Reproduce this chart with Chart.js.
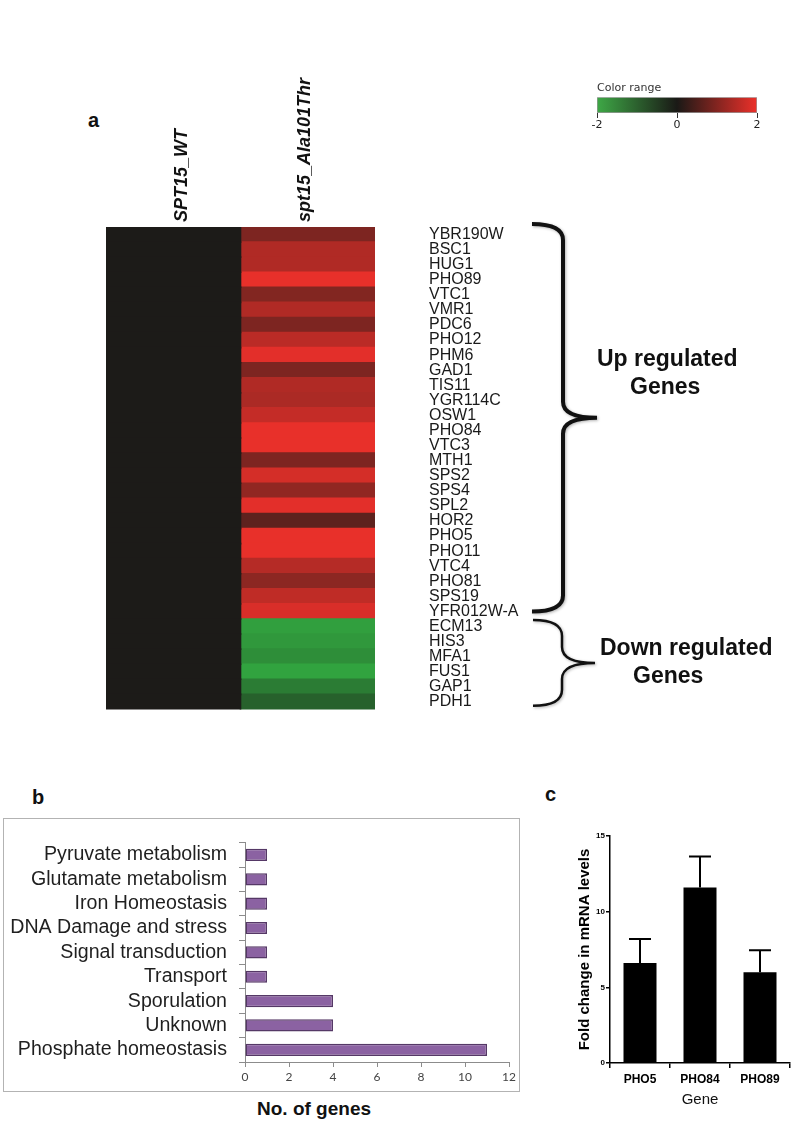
<!DOCTYPE html>
<html lang="en">
<head>
<meta charset="UTF-8">
<title>spt15 expression figure</title>
<script src="https://cdn.jsdelivr.net/npm/chart.js"></script>
<style>
  body { margin: 0; background: #fff; }
  #page { position: relative; width: 797px; height: 1126px; overflow: hidden;
          font-family: "Liberation Sans", Arial, sans-serif; color: #111; }
  .abs { position: absolute; }
  .panel-label { position: absolute; font-weight: bold; font-size: 20px; line-height: 24px; }
  #boxB { position: absolute; left: 3px; top: 818px; width: 517px; height: 274px;
          border: 1px solid #b3b3b3; box-sizing: border-box; }
  #boxB canvas { position: absolute; left: 0; top: 0; }
</style>
</head>
<body>
<div id="page">
  <div class="panel-label" style="left:88px; top:108px;">a</div>
  <canvas id="heatmap" class="abs" style="left:106px; top:0;" width="691" height="773"></canvas>
  <canvas id="scaleBar" class="abs" style="left:590px; top:78px;" width="180" height="56"></canvas>

  <div class="panel-label" style="left:32px; top:785px;">b</div>
  <div id="boxB"><canvas id="categoryChart" width="515" height="272"></canvas></div>
  <div class="abs" style="left:257px; top:1098px; font-weight:bold; font-size:19px;">No. of genes</div>

  <div class="panel-label" style="left:545px; top:782px;">c</div>
  <canvas id="qpcrChart" class="abs" style="left:560px; top:820px;" width="237" height="300"></canvas>
</div>

<script>
// ---- panel a data ----
const columns = ['SPT15_WT', 'spt15_Ala101Thr'];
const genes = ['YBR190W', 'BSC1', 'HUG1', 'PHO89', 'VTC1', 'VMR1', 'PDC6', 'PHO12', 'PHM6',
  'GAD1', 'TIS11', 'YGR114C', 'OSW1', 'PHO84', 'VTC3', 'MTH1', 'SPS2', 'SPS4', 'SPL2', 'HOR2',
  'PHO5', 'PHO11', 'VTC4', 'PHO81', 'SPS19', 'YFR012W-A',
  'ECM13', 'HIS3', 'MFA1', 'FUS1', 'GAP1', 'PDH1'];
const upCount = 26;
const wtLevels = [0, 0, 0, 0, 0, 0, 0, 0, 0, 0, 0, 0, 0, 0, 0, 0,
  0, 0, 0, 0, 0, 0, 0, 0, 0, 0, 0, 0, 0, 0, 0, 0];
const mutantLevels = [0.95, 1.45, 1.45, 2.0, 1.0, 1.45, 0.95, 1.55, 1.95,
  0.95, 1.45, 1.4, 1.65, 2.0, 2.0, 0.95, 1.8, 1.15, 1.95, 0.65,
  2.0, 2.0, 1.5, 1.1, 1.6, 1.85,
  -1.9, -1.8, -1.65, -1.95, -1.4, -1.0];
const scaleTicks = [-2, 0, 2];

// ---- panel b data ----
const functions = ['Pyruvate metabolism', 'Glutamate metabolism', 'Iron Homeostasis',
  'DNA Damage and stress', 'Signal transduction', 'Transport', 'Sporulation', 'Unknown',
  'Phosphate homeostasis'];
const geneCounts = [1, 1, 1, 1, 1, 1, 4, 4, 11];

// ---- panel c data ----
const qpcrGenes = ['PHO5', 'PHO84', 'PHO89'];
const foldChange = [6.6, 11.6, 6.0];
const foldChangeSd = [1.6, 2.05, 1.45];

Chart.defaults.font.family = '"Liberation Sans", Arial, sans-serif';
Chart.defaults.color = '#111';

const GREEN = [50, 166, 64], BLACK = [28, 27, 24], RED = [232, 48, 42];
function levelColor(v) {
  const t = Math.min(Math.abs(v) / 2, 1);
  const end = v < 0 ? GREEN : RED;
  const c = BLACK.map((b, i) => Math.round(b + (end[i] - b) * t));
  return `rgb(${c[0]}, ${c[1]}, ${c[2]})`;
}

function drawBrace(ctx, x0, xv, xt, top, bottom, width) {
  const mid = (top + bottom) / 2, r = 16;
  ctx.save();
  ctx.beginPath();
  ctx.moveTo(x0, top);
  ctx.quadraticCurveTo(xv, top, xv, top + r);
  ctx.lineTo(xv, mid - r);
  ctx.quadraticCurveTo(xv, mid, xt, mid);
  ctx.quadraticCurveTo(xv, mid, xv, mid + r);
  ctx.lineTo(xv, bottom - r);
  ctx.quadraticCurveTo(xv, bottom, x0, bottom);
  ctx.lineWidth = width;
  ctx.strokeStyle = '#111';
  ctx.shadowColor = 'rgba(0,0,0,0.3)';
  ctx.shadowBlur = 3;
  ctx.shadowOffsetX = 1;
  ctx.shadowOffsetY = 1;
  ctx.stroke();
  ctx.restore();
  return mid;
}

// braces + group captions to the right of the gene names
const bracePlugin = {
  id: 'braces',
  afterDraw(chart) {
    const { ctx, scales: { y } } = chart;
    const half = (y.getPixelForValue(1) - y.getPixelForValue(0)) / 2;
    const upMid = drawBrace(ctx, 426, 457, 491,
      y.getPixelForValue(0) - half - 3, y.getPixelForValue(upCount - 1), 4);
    const dnMid = drawBrace(ctx, 427, 456, 489,
      y.getPixelForValue(upCount) - half + 1, y.getPixelForValue(genes.length - 1) + 4, 2.5);
    ctx.save();
    ctx.fillStyle = '#111';
    ctx.font = 'bold 23px "Liberation Sans", Arial, sans-serif';
    ctx.textBaseline = 'middle';
    ctx.fillText('Up regulated', 491, upMid - 58);
    ctx.fillText('Genes', 524, upMid - 30);
    ctx.fillText('Down regulated', 494, dnMid - 14);
    ctx.fillText('Genes', 527, dnMid + 14);
    ctx.restore();
  }
};

new Chart(document.getElementById('heatmap'), {
  type: 'bar',
  data: {
    labels: genes,
    datasets: [
      { label: columns[0], data: genes.map(() => [0, 1]), backgroundColor: wtLevels.map(levelColor) },
      { label: columns[1], data: genes.map(() => [1, 2]), backgroundColor: mutantLevels.map(levelColor) }
    ]
  },
  options: {
    responsive: false,
    animation: false,
    devicePixelRatio: 1,
    indexAxis: 'y',
    layout: { padding: { top: 0, bottom: 4, left: 0, right: 0 } },
    datasets: { bar: { grouped: false, barPercentage: 1, categoryPercentage: 1, borderWidth: 0, inflateAmount: 0.8 } },
    plugins: { legend: { display: false }, tooltip: { enabled: false } },
    scales: {
      x: {
        type: 'linear', position: 'top', min: 0, max: 2,
        afterBuildTicks: axis => { axis.ticks = [{ value: 0.723 }, { value: 1.638 }]; },
        afterFit: axis => { axis.height = 227; },
        grid: { display: false, drawTicks: false },
        border: { display: false },
        ticks: {
          autoSkip: false, minRotation: 90, maxRotation: 90, padding: 5, color: '#111',
          font: { family: '"Liberation Sans Narrow", "Liberation Sans", sans-serif', size: 18, weight: 'bold', style: 'italic' },
          callback: (v, i) => columns[i]
        }
      },
      y: {
        position: 'right',
        afterFit: axis => { axis.width = 422; },
        grid: { display: false, drawTicks: false },
        border: { display: false },
        ticks: { autoSkip: false, padding: 54, color: '#1a1a1a', font: { size: 16 } }
      }
    }
  },
  plugins: [bracePlugin]
});

// colour key
new Chart(document.getElementById('scaleBar'), {
  type: 'bar',
  data: {
    labels: ['range'],
    datasets: [{
      data: [[scaleTicks[0], scaleTicks[2]]],
      backgroundColor: context => {
        const area = context.chart.chartArea;
        if (!area) return '#000';
        const g = context.chart.ctx.createLinearGradient(area.left, 0, area.right, 0);
        g.addColorStop(0, 'rgb(62,168,70)');
        g.addColorStop(0.5, 'rgb(26,25,22)');
        g.addColorStop(1, 'rgb(236,48,42)');
        return g;
      },
      borderColor: '#9a9a9a', borderWidth: 1, borderSkipped: false,
      barPercentage: 1, categoryPercentage: 1
    }]
  },
  options: {
    responsive: false, animation: false, devicePixelRatio: 1, indexAxis: 'y',
    layout: { padding: { left: 7, right: 13 } },
    plugins: {
      legend: { display: false }, tooltip: { enabled: false },
      title: { display: true, text: 'Color range', align: 'start', color: '#333',
               font: { family: '"DejaVu Sans"', size: 11, weight: 'normal' }, padding: { top: 4, bottom: 2 } }
    },
    scales: {
      x: {
        min: scaleTicks[0], max: scaleTicks[2],
        afterBuildTicks: axis => { axis.ticks = scaleTicks.map(v => ({ value: v })); },
        afterFit: axis => { axis.height = 21; },
        ticks: { color: '#222', font: { family: '"DejaVu Sans"', size: 11 }, padding: 1 },
        grid: { drawOnChartArea: false, tickLength: 5, color: '#333' },
        border: { display: false }
      },
      y: { display: false }
    }
  }
});

// panel b: functional categories
new Chart(document.getElementById('categoryChart'), {
  type: 'bar',
  data: {
    labels: functions,
    datasets: [{
      data: geneCounts,
      backgroundColor: '#8b62a2', borderColor: '#553866', borderWidth: 1.5, borderSkipped: false,
      barPercentage: 0.5, categoryPercentage: 1
    }]
  },
  options: {
    responsive: false, animation: false, devicePixelRatio: 1, indexAxis: 'y',
    layout: { padding: { top: 13, right: 6, left: 0, bottom: 0 } },
    plugins: { legend: { display: false }, tooltip: { enabled: false } },
    scales: {
      x: {
        min: 0, max: 12,
        afterFit: axis => { axis.height = 29; },
        ticks: { stepSize: 2, color: '#444', padding: 3, font: { family: 'Lato', size: 12 } },
        grid: { drawOnChartArea: false, tickLength: 5, color: '#8c8c8c' },
        border: { color: '#8c8c8c' }
      },
      y: {
        afterFit: axis => { axis.width = 241; },
        ticks: { autoSkip: false, padding: 12, color: '#1f1f1f', font: { size: 19.6 } },
        grid: { drawOnChartArea: false, tickLength: 6, color: '#8c8c8c', offset: true },
        border: { color: '#8c8c8c' }
      }
    }
  }
});

// panel c: qPCR with error bars
const errorBars = {
  id: 'errorBars',
  afterDatasetsDraw(chart) {
    const { ctx, scales: { y } } = chart;
    const meta = chart.getDatasetMeta(0);
    ctx.save();
    ctx.strokeStyle = '#000';
    ctx.lineWidth = 2;
    meta.data.forEach((bar, i) => {
      const top = y.getPixelForValue(foldChange[i] + foldChangeSd[i]);
      ctx.beginPath();
      ctx.moveTo(bar.x, bar.y);
      ctx.lineTo(bar.x, top);
      ctx.moveTo(bar.x - 11, top);
      ctx.lineTo(bar.x + 11, top);
      ctx.stroke();
    });
    ctx.restore();
  }
};

new Chart(document.getElementById('qpcrChart'), {
  type: 'bar',
  data: {
    labels: qpcrGenes,
    datasets: [{ data: foldChange, backgroundColor: '#000', barPercentage: 0.55, categoryPercentage: 1 }]
  },
  options: {
    responsive: false, animation: false, devicePixelRatio: 1,
    layout: { padding: { top: 16, right: 7, left: 0, bottom: 0 } },
    plugins: { legend: { display: false }, tooltip: { enabled: false } },
    scales: {
      x: {
        afterFit: axis => { axis.height = 57; },
        ticks: { color: '#000', padding: 4, font: { size: 12, weight: 'bold' } },
        grid: { drawOnChartArea: false, tickLength: 5, color: '#000', lineWidth: 1.5 },
        border: { color: '#000', width: 1.5 },
        title: { display: true, text: 'Gene', color: '#111', font: { size: 15 }, padding: { top: 0, bottom: 11 } }
      },
      y: {
        min: 0, max: 15,
        afterFit: axis => { axis.width = 50; },
        ticks: { stepSize: 5, color: '#000', padding: 1, font: { size: 8, weight: 'bold' } },
        grid: { drawOnChartArea: false, tickLength: 4, color: '#000', lineWidth: 1.5 },
        border: { color: '#000', width: 1.5 },
        title: { display: true, text: 'Fold change in mRNA levels', color: '#000',
                 font: { size: 15, weight: 'bold' }, padding: { top: 16, bottom: 0 } }
      }
    }
  },
  plugins: [errorBars]
});
</script>
</body>
</html>
